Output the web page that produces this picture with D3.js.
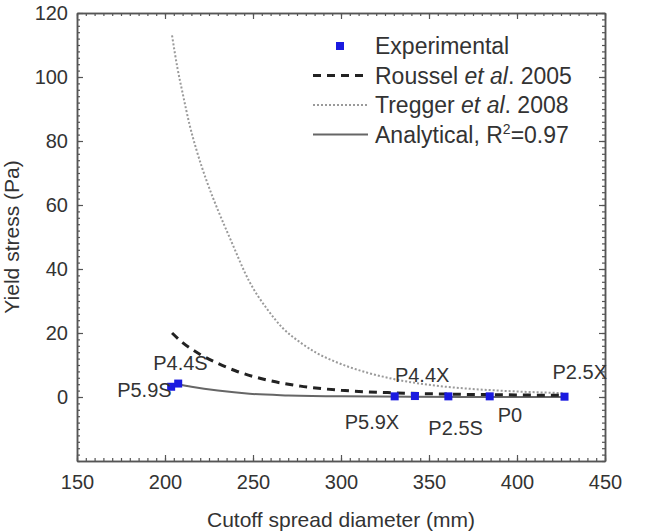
<!DOCTYPE html>
<html>
<head>
<meta charset="utf-8">
<script src="https://cdn.jsdelivr.net/npm/d3@7"></script>
<style>
  body { margin: 0; background: #fff; }
  text { font-family: "Liberation Sans", Arial, sans-serif; fill: #333; }
</style>
</head>
<body>
<div id="chart"></div>
<script>
// data
const sampleNames = ["P5.9S", "P4.4S", "P5.9X", "P4.4X", "P2.5S", "P0", "P2.5X"];
const sampleDiameter = [203.5, 207.5, 330.5, 342, 361, 384.5, 427];
const sampleStress = [3.2, 4.2, 0.2, 0.3, 0.2, 0.2, 0.1];

const rousselX = [204, 210, 220, 230, 240, 258, 277, 300, 330, 360, 390, 427];
const rousselY = [20, 17, 13.3, 10.5, 8.2, 5.3, 3.4, 2.1, 1.3, 0.9, 0.7, 0.5];

const treggerX = [204, 207, 210, 214, 218, 224, 230, 237, 248, 258, 267, 277, 286, 296, 305, 315, 330, 350, 370, 390, 410, 427];
const treggerY = [113, 103, 95, 85, 77, 67, 58.5, 49.5, 36, 27.5, 21.5, 17, 13.8, 11.2, 9.3, 7.6, 5.6, 3.8, 2.7, 2.0, 1.5, 1.2];

const analyticalX = [207, 215, 230, 248, 270, 300, 340, 380, 427];
const analyticalY = [4.0, 3.2, 2.0, 1.0, 0.5, 0.2, 0.1, 0.0, 0.0];

const xTicks = [150, 200, 250, 300, 350, 400, 450];
const yTicks = [0, 20, 40, 60, 80, 100, 120];

const width = 655;
const height = 531;
const margin = { top: 13, right: 50, bottom: 70, left: 77 };

const svg = d3.select("#chart")
    .append("svg")
    .attr("width", width)
    .attr("height", height);

const x = d3.scaleLinear().domain([150, 450]).range([margin.left, width - margin.right]);
const y = d3.scaleLinear().domain([-20, 120]).range([height - margin.bottom, margin.top]);

const axisColor = "#555";

function styleAxis(g) {
    g.selectAll("path").attr("stroke", axisColor).attr("stroke-width", 1.5);
    g.selectAll("line").attr("stroke", axisColor).attr("stroke-width", 1.2);
    g.selectAll("text").attr("font-size", 20).attr("fill", "#333")
        .attr("font-family", "'Liberation Sans', Arial, sans-serif");
}

// minor ticks first
const xMinor = d3.range(150, 451, 5);
const yMinor = d3.range(-20, 121, 2);

svg.append("g").attr("transform", `translate(0,${y(-20)})`)
    .call(d3.axisBottom(x).tickValues(xMinor).tickSize(-3).tickFormat("").tickSizeOuter(0)).call(styleAxis);
svg.append("g").attr("transform", `translate(0,${y(120)})`)
    .call(d3.axisTop(x).tickValues(xMinor).tickSize(-3).tickFormat("").tickSizeOuter(0)).call(styleAxis);
svg.append("g").attr("transform", `translate(${x(150)},0)`)
    .call(d3.axisLeft(y).tickValues(yMinor).tickSize(-3).tickFormat("").tickSizeOuter(0)).call(styleAxis);
svg.append("g").attr("transform", `translate(${x(450)},0)`)
    .call(d3.axisRight(y).tickValues(yMinor).tickSize(-3).tickFormat("").tickSizeOuter(0)).call(styleAxis);

// major ticks with labels
svg.append("g").attr("transform", `translate(0,${y(-20)})`)
    .call(d3.axisBottom(x).tickValues(xTicks).tickSize(-6).tickPadding(14).tickSizeOuter(0)).call(styleAxis);
svg.append("g").attr("transform", `translate(0,${y(120)})`)
    .call(d3.axisTop(x).tickValues(xTicks).tickSize(-6).tickFormat("").tickSizeOuter(0)).call(styleAxis);
svg.append("g").attr("transform", `translate(${x(150)},0)`)
    .call(d3.axisLeft(y).tickValues(yTicks).tickSize(-6).tickPadding(9).tickSizeOuter(0)).call(styleAxis);
svg.append("g").attr("transform", `translate(${x(450)},0)`)
    .call(d3.axisRight(y).tickValues(yTicks).tickSize(-6).tickFormat("").tickSizeOuter(0)).call(styleAxis);

// axis titles
svg.append("text")
    .attr("x", (x(150) + x(450)) / 2)
    .attr("y", 527)
    .attr("text-anchor", "middle")
    .attr("font-size", 21)
    .text("Cutoff spread diameter (mm)");

svg.append("text")
    .attr("transform", `translate(19,${(y(-20) + y(120)) / 2}) rotate(-90)`)
    .attr("text-anchor", "middle")
    .attr("font-size", 21)
    .text("Yield stress (Pa)");

// curves
const line = d3.line().x(d => x(d[0])).y(d => y(d[1])).curve(d3.curveMonotoneX);

const tregger = d3.zip(treggerX, treggerY);
const roussel = d3.zip(rousselX, rousselY);
const analytical = d3.zip(analyticalX, analyticalY);

const styles = {
    roussel: { stroke: "#222", width: 3, dash: "8,6" },
    tregger: { stroke: "#9a9a9a", width: 2, dash: "2,2" },
    analytical: { stroke: "#666", width: 2, dash: null }
};

svg.append("path").datum(tregger)
    .attr("d", line).attr("fill", "none")
    .attr("stroke", styles.tregger.stroke).attr("stroke-width", styles.tregger.width)
    .attr("stroke-dasharray", styles.tregger.dash);

svg.append("path").datum(analytical)
    .attr("d", line).attr("fill", "none")
    .attr("stroke", styles.analytical.stroke).attr("stroke-width", styles.analytical.width);

svg.append("path").datum(roussel)
    .attr("d", line).attr("fill", "none")
    .attr("stroke", styles.roussel.stroke).attr("stroke-width", styles.roussel.width)
    .attr("stroke-dasharray", styles.roussel.dash);

// experimental squares
const markerColor = "#1a1ae0";
const sq = 8;
const samples = sampleNames.map((n, i) => ({ name: n, d: sampleDiameter[i], s: sampleStress[i] }));

svg.selectAll("rect.pt")
    .data(samples)
    .enter()
    .append("rect")
    .attr("class", "pt")
    .attr("x", d => x(d.d) - sq / 2)
    .attr("y", d => y(d.s) - sq / 2)
    .attr("width", sq)
    .attr("height", sq)
    .attr("fill", markerColor);

// label offsets from each point, in pixels
const labelOffset = {
    "P5.9S": [-54, 10],
    "P4.4S": [-25, -14],
    "P5.9X": [-50, 33],
    "P4.4X": [-20, -14],
    "P2.5S": [-20, 39],
    "P0": [8, 26],
    "P2.5X": [-12, -18]
};

svg.selectAll("text.lbl")
    .data(samples)
    .enter()
    .append("text")
    .attr("class", "lbl")
    .attr("x", d => x(d.d) + labelOffset[d.name][0])
    .attr("y", d => y(d.s) + labelOffset[d.name][1])
    .attr("font-size", 20)
    .text(d => d.name);

// legend
const legend = svg.append("g").attr("transform", "translate(313,46)");
const rowGap = 29.5;

legend.append("rect")
    .attr("x", 27 - sq / 2).attr("y", -sq / 2)
    .attr("width", sq).attr("height", sq)
    .attr("fill", markerColor);

[["roussel", 1], ["tregger", 2], ["analytical", 3]].forEach(([k, r]) => {
    legend.append("line")
        .attr("x1", 0).attr("x2", 55)
        .attr("y1", r * rowGap).attr("y2", r * rowGap)
        .attr("stroke", styles[k].stroke)
        .attr("stroke-width", styles[k].width)
        .attr("stroke-dasharray", styles[k].dash);
});

function legendText(r) {
    return legend.append("text")
        .attr("x", 62)
        .attr("y", r * rowGap + 8)
        .attr("font-size", 23);
}

legendText(0).text("Experimental");

const t1 = legendText(1);
t1.append("tspan").text("Roussel ");
t1.append("tspan").attr("font-style", "italic").text("et al");
t1.append("tspan").text(". 2005");

const t2 = legendText(2);
t2.append("tspan").text("Tregger ");
t2.append("tspan").attr("font-style", "italic").text("et al");
t2.append("tspan").text(". 2008");

const t3 = legendText(3);
t3.append("tspan").text("Analytical, R");
t3.append("tspan").attr("font-size", 14).attr("dy", -9).text("2");
t3.append("tspan").attr("dy", 9).text("=0.97");
</script>
</body>
</html>
